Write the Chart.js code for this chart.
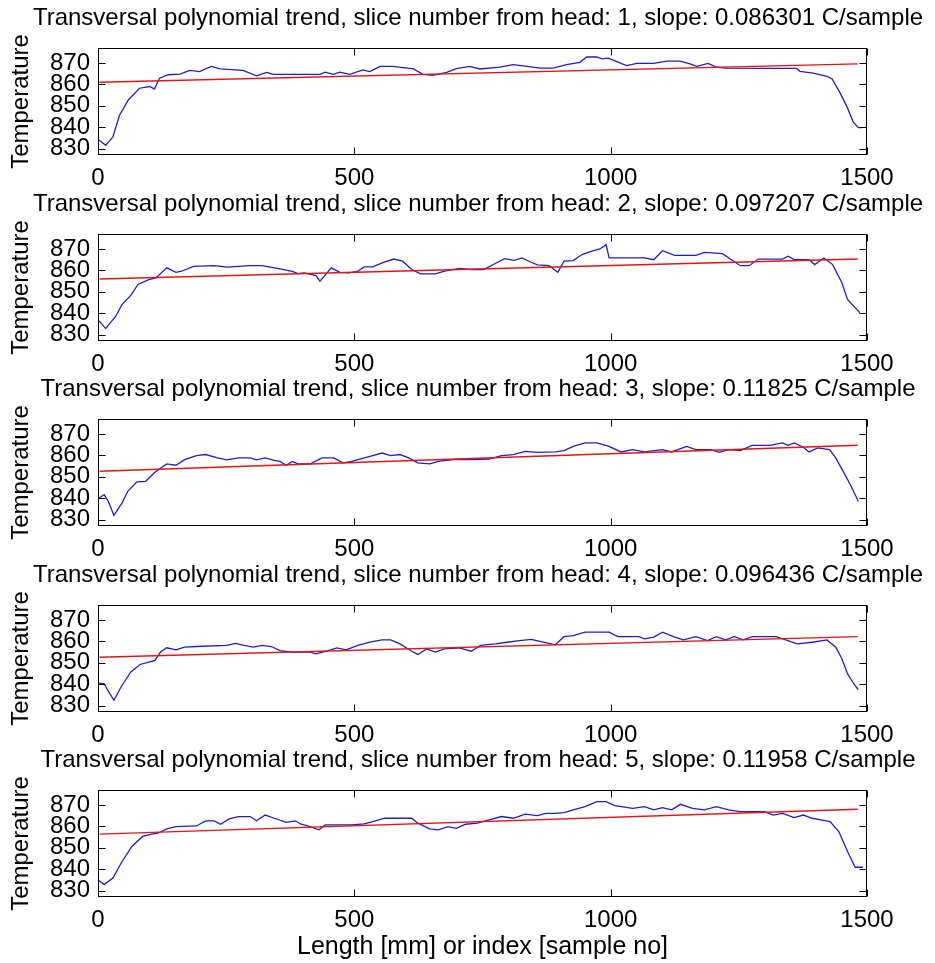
<!DOCTYPE html>
<html>
<head>
<meta charset="utf-8">
<script src="https://cdn.jsdelivr.net/npm/chart.js@4.4.1/dist/chart.umd.min.js"></script>
<style>
  body { margin: 0; background: #fff; }
  #wrap { position: relative; width: 935px; height: 963px; overflow: hidden; }
  #wrap canvas { position: absolute; left: 0; }
</style>
</head>
<body>
<div id="wrap"></div>
<script>
// ===== DATA =====
const xTicks = [0, 500, 1000, 1500];
const yTicks = [830, 840, 850, 860, 870];
const sliceNumbers = [1, 2, 3, 4, 5];
const slopes = ["0.086301", "0.097207", "0.11825", "0.096436", "0.11958"];

const slice1X = [2,15,29,42,59,81,101,110,120,137,160,179,198,221,238,283,309,329,342,433,443,459,472,491,517,530,550,575,615,634,653,680,699,725,745,784,810,837,862,888,914,940,953,973,983,995,1012,1031,1051,1083,1110,1135,1155,1168,1190,1207,1227,1305,1363,1369,1395,1422,1432,1448,1461,1473,1483,1490];
const slice1Y = [834,831.5,835.4,845.6,852.7,858.2,859,857.8,862.9,864.5,864.8,866.5,866,868.4,867.2,866.5,864,865.6,864.7,864.7,865.7,864.7,865.7,864.7,866.8,866,868.4,868.4,867.2,864.7,864.2,865.6,867.4,868.4,867.2,868.1,869.2,868.4,867.6,867.6,869.2,870.3,872.8,872.8,871.9,872.3,870.6,868.8,869.8,869.8,870.9,870.9,869.6,868.4,869.8,868,867.6,867.5,867.5,866.1,865.3,863.8,862.5,855.8,849.5,842.5,839.8,839.8];

const slice2X = [2,15,35,47,64,78,99,113,134,152,163,186,227,251,297,320,355,379,390,402,425,433,455,472,490,507,519,536,554,577,594,612,629,658,676,705,728,752,775,793,812,827,845,857,880,897,909,927,944,962,979,991,997,1066,1084,1101,1125,1166,1183,1218,1253,1270,1288,1335,1346,1358,1387,1398,1416,1433,1451,1462,1480,1486];
const slice2Y = [836.4,832.8,838.7,844.1,848.3,853.4,855.7,856.5,861.2,859.1,859.6,861.9,862.2,861.5,862.2,862.2,860.7,859.5,858.5,858.8,857.6,855,861.2,859.1,858.8,859.6,861.6,861.6,863.5,865.3,864.3,860.4,858.4,858.4,859.6,860.9,860.4,860.4,863.2,865.5,864.7,865.8,863.8,862.6,862.2,859.1,864.3,864.6,867.4,868.9,870,872,865.8,865.8,865,869.2,867,867,868.4,867.8,862.2,862.2,865.3,865.3,866.6,865,865,862.7,865.8,862.7,854.2,846.4,841.8,840.2];

const slice3X = [2,12,20,31,47,58,76,93,111,134,152,169,192,210,233,251,274,297,309,326,344,355,367,379,390,414,437,460,478,495,507,536,554,571,589,606,624,647,664,693,728,763,787,810,833,857,892,909,927,950,973,997,1020,1043,1066,1101,1119,1148,1166,1195,1212,1230,1253,1276,1311,1335,1346,1358,1376,1387,1404,1427,1439,1457,1469,1483];
const slice3Y = [840.1,841.7,838.6,832,837.8,843.2,847.6,847.9,852.1,856,855.4,858,859.9,860.4,858.8,857.9,858.8,858.8,857.9,858.8,857.7,857.2,855.4,857.2,856,856,858.8,858.8,856.5,857.2,858,859.9,861.1,859.9,860.4,858.8,856.5,856,857.2,858,858,858.3,859.9,860.4,861.9,861.4,861.6,862.2,864.2,865.8,865.8,864.2,861.6,862.7,861.6,862.7,861.6,864.2,862.7,862.7,861.4,862.7,862.2,864.7,864.7,865.8,864.7,865.8,863.8,861.6,863.5,862.7,858.8,851,845.6,838.6];

const slice4X = [2,12,21,31,47,64,82,99,111,122,134,152,169,192,251,268,285,303,320,338,355,379,414,425,449,466,484,507,530,554,571,589,612,624,641,658,676,705,728,746,775,798,822,845,869,892,909,927,950,997,1014,1055,1066,1084,1101,1125,1142,1166,1189,1206,1224,1241,1259,1276,1323,1364,1393,1422,1439,1451,1462,1474,1483];
const slice4Y = [840.5,840.2,836.4,832.5,839.5,845.7,849.2,850.3,851.1,855,857,856,857.3,857.6,858.1,859.1,858.1,857.3,858.1,857.6,855.7,855,855,854.2,855.7,857,856,858.1,859.6,860.7,860.7,858.8,855.4,853.9,856.5,855,856.5,857,855.4,858.1,858.8,859.6,860.4,860.9,859.6,858.4,862.2,862.7,864.3,864.3,862.2,862.2,861.2,862,864.3,862,860.7,862.2,860.4,862.2,860.7,862.2,860.7,862.2,862.2,858.8,859.6,860.7,857.3,851.9,844.9,840.2,837.4];

const slice5X = [2,12,29,47,66,87,105,117,134,152,192,210,227,239,256,274,297,309,326,344,367,385,396,414,431,443,460,495,519,536,559,612,624,647,664,682,699,717,740,763,787,810,833,857,874,892,909,927,950,973,991,1008,1043,1066,1084,1101,1119,1136,1160,1183,1206,1230,1253,1300,1317,1335,1358,1376,1393,1410,1428,1445,1462,1477,1492];
const slice5Y = [834.7,832.8,835.9,843.6,850.6,855.3,856.4,856.8,858.8,859.9,860.2,862.6,862.6,861,863.5,864.6,864.6,862.6,865.3,863.8,861.9,862.6,861,859.9,858.4,860.7,860.7,860.7,861.2,862.2,863.8,863.8,861.5,858.8,858.4,859.9,859.1,861,861.5,863,864.6,863.8,865.7,865,866.1,866.1,866.4,867.7,869.2,871.6,871.6,869.7,868.4,869.2,867.7,868.8,867.7,870.3,868.4,867.7,869.2,867.7,866.9,866.9,865.3,866.1,864.1,865.3,863.8,863,862.2,857.6,848.3,840.9,840.9];

// linear trend: value at start and end of trendX
const trendX = [3, 1482];
const trend1 = [861, 869.6];
const trend2 = [856, 865.3];
const trend3 = [852.6, 864.7];
const trend4 = [852.6, 862.2];
const trend5 = [856.4, 868];

const slices = [
  { x: slice1X, y: slice1Y, trend: trend1 },
  { x: slice2X, y: slice2Y, trend: trend2 },
  { x: slice3X, y: slice3Y, trend: trend3 },
  { x: slice4X, y: slice4Y, trend: trend4 },
  { x: slice5X, y: slice5Y, trend: trend5 }
];

// ===== LAYOUT =====
const canvasTops = [0, 186, 371, 557, 742];
const FONT = "'Liberation Sans', Arial, Helvetica, sans-serif";
const BLUE = "rgb(30,30,205)";
const RED = "rgb(228,20,20)";
const PAD_LEFT = 21;   // keeps the title centred like the reference

// matlab style box with inward ticks
const boxPlugin = {
  id: "axisBox",
  afterDatasetsDraw(chart) {
    const { ctx, chartArea: a, scales } = chart;
    const l = Math.round(a.left) + 0.5;
    const r = Math.round(a.right) - 0.5;
    const t = Math.round(a.top) + 0.5;
    const b = Math.round(a.bottom) - 0.5;
    const len = 7;
    ctx.save();
    ctx.strokeStyle = "#000";
    ctx.lineWidth = 1;
    ctx.strokeRect(l, t, r - l, b - t);
    ctx.beginPath();
    scales.x.ticks.forEach(tk => {
      const px = Math.round(scales.x.getPixelForValue(tk.value)) + 0.5;
      ctx.moveTo(px, b); ctx.lineTo(px, b - len);
      ctx.moveTo(px, t); ctx.lineTo(px, t + len);
    });
    scales.y.ticks.forEach(tk => {
      const py = Math.round(scales.y.getPixelForValue(tk.value)) + 0.5;
      ctx.moveTo(l, py); ctx.lineTo(l + len, py);
      ctx.moveTo(r, py); ctx.lineTo(r - len, py);
    });
    ctx.stroke();
    ctx.restore();
  }
};

const wrap = document.getElementById("wrap");

slices.forEach((s, i) => {
  const last = i === slices.length - 1;
  const top = canvasTops[i];
  const h = last ? 963 - top : canvasTops[i + 1] - top;

  const cv = document.createElement("canvas");
  cv.width = 935;
  cv.height = h;
  cv.style.top = top + "px";
  cv.style.width = "935px";
  cv.style.height = h + "px";
  wrap.appendChild(cv);

  new Chart(cv.getContext("2d"), {
    type: "line",
    data: {
      datasets: [
        {
          data: s.x.map((v, k) => ({ x: v, y: s.y[k] })),
          borderColor: BLUE,
          borderWidth: 1.3,
          pointRadius: 0,
          tension: 0,
          order: 2
        },
        {
          data: trendX.map((v, k) => ({ x: v, y: s.trend[k] })),
          borderColor: RED,
          borderWidth: 1.4,
          pointRadius: 0,
          order: 1
        }
      ]
    },
    options: {
      responsive: false,
      animation: false,
      events: [],
      layout: { padding: { left: PAD_LEFT, right: 0, top: 0, bottom: 0 } },
      plugins: {
        legend: { display: false },
        tooltip: { enabled: false },
        title: {
          display: true,
          text: "Transversal polynomial trend, slice number from head: " + sliceNumbers[i] + ", slope: " + slopes[i] + " C/sample",
          color: "#000",
          font: { family: FONT, size: 24, weight: "normal", lineHeight: 1.2 },
          padding: { top: 4, bottom: 15.2 }
        }
      },
      scales: {
        x: {
          type: "linear",
          min: 0,
          max: 1500,
          afterBuildTicks: sc => { sc.ticks = xTicks.map(v => ({ value: v })); },
          afterFit: sc => { sc.height = h - 155; },
          grid: { display: false, drawTicks: false },
          border: { display: false },
          ticks: {
            color: "#000",
            padding: 9,
            maxRotation: 0,
            autoSkip: false,
            font: { family: FONT, size: 24 },
            callback: v => String(v)
          },
          title: {
            display: last,
            text: "Length [mm] or index [sample no]",
            color: "#000",
            font: { family: FONT, size: 25, lineHeight: 1.2 },
            padding: { top: 0, bottom: 1 }
          }
        },
        y: {
          type: "linear",
          min: 827,
          max: 877,
          afterBuildTicks: sc => { sc.ticks = yTicks.map(v => ({ value: v })); },
          afterFit: sc => { sc.width = 98 - PAD_LEFT; },
          grid: { display: false, drawTicks: false },
          border: { display: false },
          ticks: {
            color: "#000",
            padding: 8,
            autoSkip: false,
            font: { family: FONT, size: 24 },
            callback: v => String(v)
          },
          title: {
            display: true,
            text: "Temperature",
            color: "#000",
            font: { family: FONT, size: 24, lineHeight: 1.2 },
            padding: { top: -14, bottom: 0 }
          }
        },
        // empty right-hand strip, same width as the reference margin
        yRight: {
          type: "linear",
          position: "right",
          afterFit: sc => { sc.width = 68; },
          grid: { display: false, drawTicks: false },
          border: { display: false },
          ticks: { display: false }
        }
      }
    },
    plugins: [boxPlugin]
  });
});
</script>
</body>
</html>
